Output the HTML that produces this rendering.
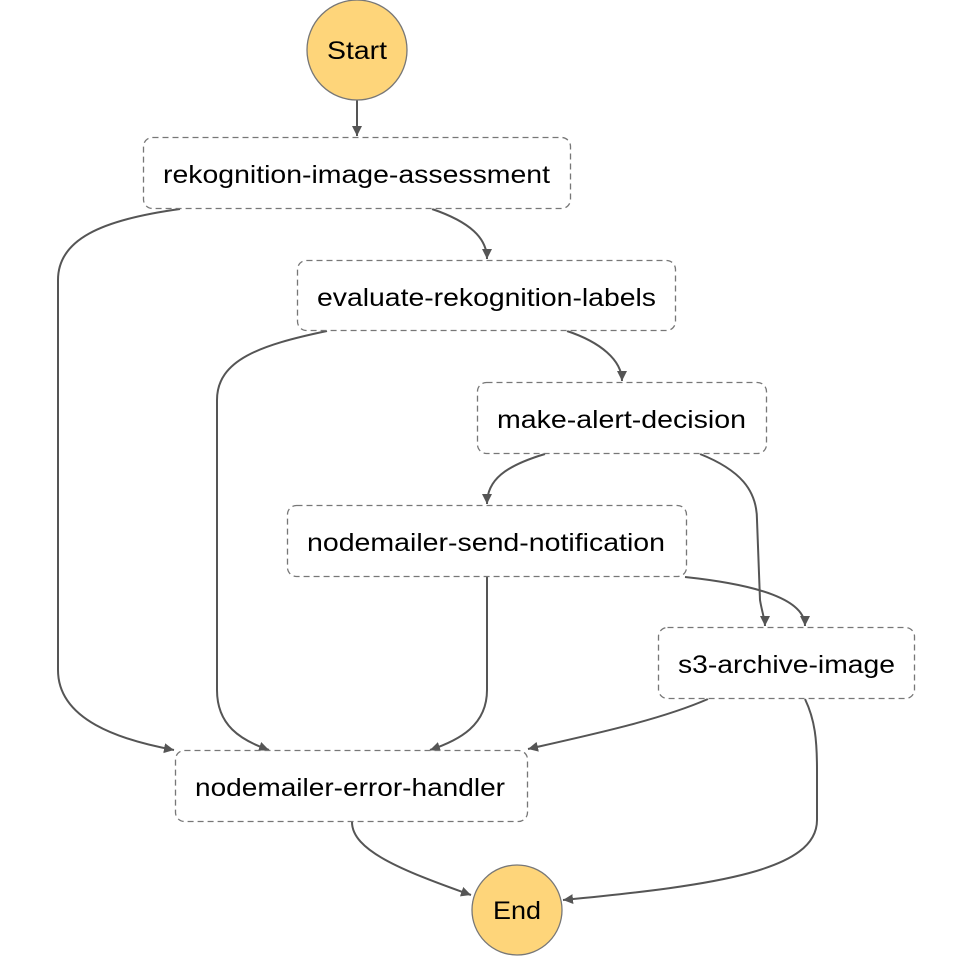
<!DOCTYPE html>
<html><head><style>
html,body{margin:0;padding:0;background:#fff;}
svg{display:block;}
text{font-family:"Liberation Sans",sans-serif;font-size:25px;fill:#000;}
</style></head><body>
<svg width="954" height="962" viewBox="0 0 954 962">
<defs>
<marker id="a" markerWidth="12" markerHeight="12" refX="10" refY="5" orient="auto" markerUnits="userSpaceOnUse">
<path d="M0,0 L10,5 L0,10 z" fill="#555"/>
</marker>
</defs>
<g fill="none" stroke="#555" stroke-width="2" marker-end="url(#a)">
<path d="M357,100 L357,136"/>
<path d="M432,209 C470,222 487,238 487,259"/>
<path d="M180,209 C100,220 58,240 58,280 L58,670 C58,720 120,740 174,750"/>
<path d="M567,331 C600,342 622,360 622,381"/>
<path d="M327,331 C260,345 217,360 217,400 L217,690 C217,725 240,740 269,750"/>
<path d="M545,454 C505,466 487,480 487,504"/>
<path d="M700,454 C740,470 757,490 757,520 L760,600 C762,612 765,620 765,626"/>
<path d="M685,577 C760,585 805,600 805,626"/>
<path d="M487,577 L487,690 C487,725 460,740 430,750"/>
<path d="M708,699 C660,720 590,735 528,749"/>
<path d="M805,699 C815,720 817,740 817,770 L817,820 C817,870 720,885 563,900"/>
<path d="M352,822 C352,850 400,870 471,895"/>
</g>
<g fill="#fff" stroke="#777" stroke-width="1.3" stroke-dasharray="6,4">
<rect x="143.5" y="137.5" width="427" height="71" rx="9"/>
<rect x="297.5" y="260.5" width="378" height="70" rx="9"/>
<rect x="477.5" y="382.5" width="289" height="71" rx="9"/>
<rect x="287.5" y="505.5" width="399" height="71" rx="9"/>
<rect x="658.5" y="627.5" width="256" height="71" rx="9"/>
<rect x="175.5" y="750.5" width="352" height="71" rx="9"/>
</g>
<circle cx="357" cy="50" r="50" fill="#fed57a" stroke="#777" stroke-width="1.3"/>
<circle cx="517" cy="910" r="45" fill="#fed57a" stroke="#777" stroke-width="1.3"/>
<g lengthAdjust="spacingAndGlyphs">
<text x="327" y="59" textLength="60" lengthAdjust="spacingAndGlyphs">Start</text>
<text x="493" y="919" textLength="48" lengthAdjust="spacingAndGlyphs">End</text>
<text x="163" y="183" textLength="387" lengthAdjust="spacingAndGlyphs">rekognition-image-assessment</text>
<text x="317" y="306" textLength="339" lengthAdjust="spacingAndGlyphs">evaluate-rekognition-labels</text>
<text x="497" y="428" textLength="249" lengthAdjust="spacingAndGlyphs">make-alert-decision</text>
<text x="307" y="551" textLength="358" lengthAdjust="spacingAndGlyphs">nodemailer-send-notification</text>
<text x="678" y="673" textLength="217" lengthAdjust="spacingAndGlyphs">s3-archive-image</text>
<text x="195" y="796" textLength="310" lengthAdjust="spacingAndGlyphs">nodemailer-error-handler</text>
</g>
</svg>
</body></html>
